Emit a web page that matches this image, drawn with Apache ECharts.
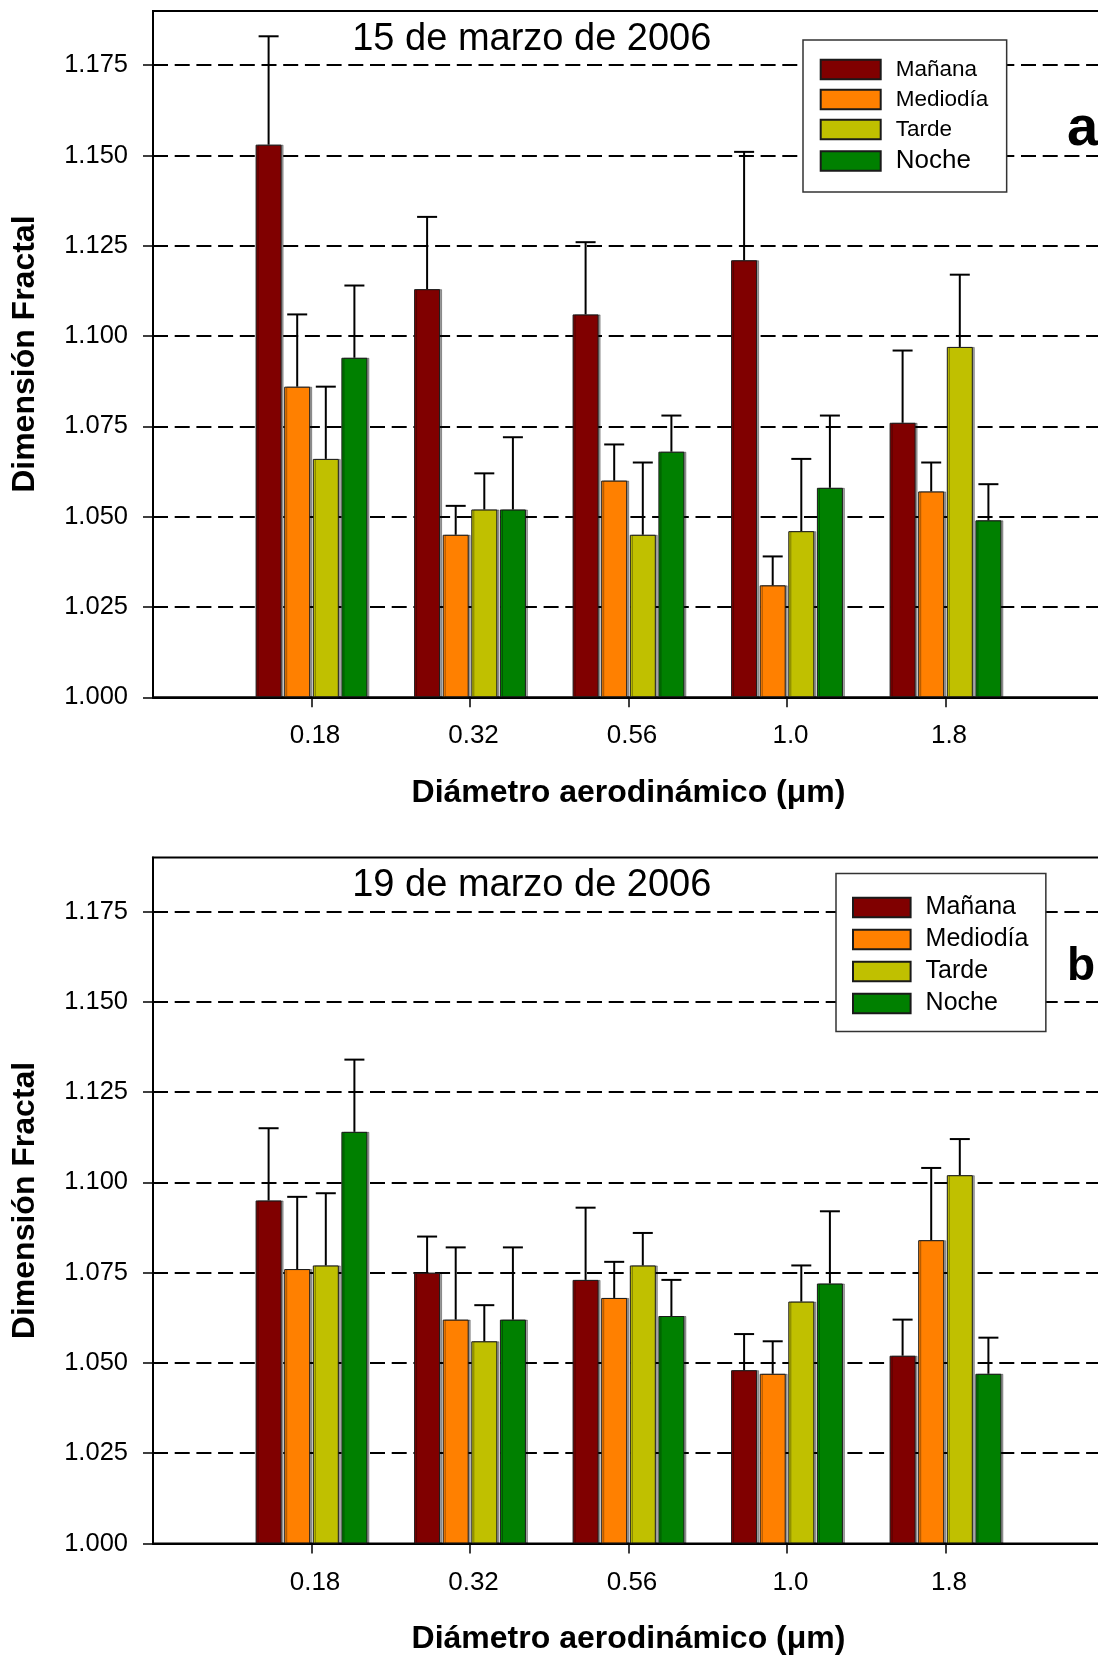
<!DOCTYPE html>
<html>
<head>
<meta charset="utf-8">
<script src="https://cdn.jsdelivr.net/npm/echarts@6/dist/echarts.min.js"></script>
<style>
html,body{margin:0;padding:0;background:#fff;}
#chart{width:1098px;height:1656px;}
</style>
</head>
<body>
<div id="chart"></div>
<script>
// ---------- data ----------
const CATS = ['0.18', '0.32', '0.56', '1.0', '1.8'];
const NAMES = ['Mañana', 'Mediodía', 'Tarde', 'Noche'];
const COLORS = ['#800000', '#FF8000', '#C0C000', '#008000'];
const Y_TICKS = [1.000, 1.025, 1.050, 1.075, 1.100, 1.125, 1.150, 1.175];
const TITLE_A = '15 de marzo de 2006';
const TITLE_B = '19 de marzo de 2006';

// Panel a: 15 de marzo de 2006
const A_MANANA   = [1.153, 1.113, 1.106, 1.121, 1.076];
const A_MEDIODIA = [1.086, 1.045, 1.060, 1.031, 1.057];
const A_TARDE    = [1.066, 1.052, 1.045, 1.046, 1.097];
const A_NOCHE    = [1.094, 1.052, 1.068, 1.058, 1.049];
const A_ERR_MANANA   = [0.030, 0.020, 0.020, 0.030, 0.020];
const A_ERR_MEDIODIA = [0.020, 0.008, 0.010, 0.008, 0.008];
const A_ERR_TARDE    = [0.020, 0.010, 0.020, 0.020, 0.020];
const A_ERR_NOCHE    = [0.020, 0.020, 0.010, 0.020, 0.010];

// Panel b: 19 de marzo de 2006
const B_MANANA   = [1.095, 1.075, 1.073, 1.048, 1.052];
const B_MEDIODIA = [1.076, 1.062, 1.068, 1.047, 1.084];
const B_TARDE    = [1.077, 1.056, 1.077, 1.067, 1.102];
const B_NOCHE    = [1.114, 1.062, 1.063, 1.072, 1.047];
const B_ERR_MANANA   = [0.020, 0.010, 0.020, 0.010, 0.010];
const B_ERR_MEDIODIA = [0.020, 0.020, 0.010, 0.009, 0.020];
const B_ERR_TARDE    = [0.020, 0.010, 0.009, 0.010, 0.010];
const B_ERR_NOCHE    = [0.020, 0.020, 0.010, 0.020, 0.010];

// ---------- styling ----------
const FONT = '"Liberation Sans", Arial, sans-serif';
const BAR_W = 26;
const BAR_GAP = 0.1;
const PITCH = BAR_W * (1 + BAR_GAP);
const CAP = 10;

const chart = echarts.init(document.getElementById('chart'), null, {renderer: 'canvas'});

function makeX(g) {
  const pos = CATS.map((_, i) => i + 1);
  return {
    type: 'value', gridIndex: g, min: 0, max: CATS.length + 1, interval: 1,
    axisLine: {show: true, onZero: false, lineStyle: {color: '#000', width: 2}},
    axisTick: {show: true, customValues: pos, length: 10, inside: false, lineStyle: {color: '#000', width: 1.5}},
    axisLabel: {show: true, customValues: pos, formatter: v => CATS[Math.round(v) - 1] || '',
      fontSize: 26, fontFamily: FONT, color: '#000', margin: 26, padding: [0, 0, 0, 7]},
    splitLine: {show: false},
    name: 'Diámetro aerodinámico (μm)', nameLocation: 'middle', nameGap: 80,
    nameTextStyle: {fontSize: 32, fontWeight: 'bold', fontFamily: FONT, color: '#000'}
  };
}
function makeY(g) {
  return {
    type: 'value', gridIndex: g, min: 1.0, max: 1.19, interval: 0.025, startValue: 1.0,
    axisLine: {show: true, onZero: false, lineStyle: {color: '#000', width: 2}},
    axisTick: {show: true, customValues: Y_TICKS, length: 10, inside: false, lineStyle: {color: '#000', width: 1.5}},
    axisLabel: {show: true, customValues: Y_TICKS, formatter: v => v.toFixed(3),
      fontSize: 25.5, fontFamily: FONT, color: '#000', margin: 25},
    splitLine: {show: true, showMinLine: false, showMaxLine: true,
      lineStyle: {color: '#000', width: 1.8, type: [15, 6.7]}},
    name: 'Dimensión Fractal', nameLocation: 'middle', nameGap: 112,
    nameTextStyle: {fontSize: 32, fontWeight: 'bold', fontFamily: FONT, color: '#000'}
  };
}

function panelSeries(g, vals, errs) {
  const out = [];
  vals.forEach((arr, k) => {
    out.push({
      type: 'bar', name: NAMES[k], xAxisIndex: g, yAxisIndex: g,
      data: arr.map((v, i) => [i + 1, v]),
      barWidth: BAR_W, barGap: (BAR_GAP * 100) + '%',
      clip: true, z: 2, animation: false,
      itemStyle: {color: COLORS[k], borderColor: '#1a1a1a', borderWidth: 1,
        shadowColor: 'rgba(0,0,0,0.35)', shadowOffsetX: 2, shadowOffsetY: 0, shadowBlur: 0}
    });
  });
  vals.forEach((arr, k) => {
    out.push({
      type: 'custom', name: NAMES[k] + ' err', xAxisIndex: g, yAxisIndex: g,
      data: arr.map((v, i) => [i + 1, v, v + errs[k][i]]),
      z: 3, silent: true, animation: false,
      renderItem: (params, api) => {
        const x = api.value(0);
        const p0 = api.coord([x, api.value(1)]);
        const p1 = api.coord([x, api.value(2)]);
        const cx = p0[0] + (k - 1.5) * PITCH;
        const st = {stroke: '#000', lineWidth: 2};
        return {type: 'group', children: [
          {type: 'line', shape: {x1: cx, y1: p0[1], x2: cx, y2: p1[1]}, style: st},
          {type: 'line', shape: {x1: cx - CAP, y1: p1[1], x2: cx + CAP, y2: p1[1]}, style: st}
        ]};
      }
    });
  });
  return out;
}

function legendData(sizes) {
  return NAMES.map((n, k) => ({name: n, textStyle: {fontSize: sizes[k]}}));
}

const option = {
  backgroundColor: '#fff',
  animation: false,
  grid: [
    {left: 153, top: 11, width: 951, height: 686.3, show: true, borderColor: '#000', borderWidth: 2,
     backgroundColor: 'transparent', containLabel: false, outerBoundsMode: 'none'},
    {left: 153, top: 857.4, width: 951, height: 686.1, show: true, borderColor: '#000', borderWidth: 2,
     backgroundColor: 'transparent', containLabel: false, outerBoundsMode: 'none'}
  ],
  xAxis: [makeX(0), makeX(1)],
  yAxis: [makeY(0), makeY(1)],
  legend: [
    {
      orient: 'vertical', left: 803, top: 40, icon: 'rect',
      itemWidth: 60, itemHeight: 19.4, itemGap: 7, selectedMode: false,
      padding: [18, 18.4, 18.1, 16.7],
      backgroundColor: '#fff', borderColor: '#333', borderWidth: 1.5, borderRadius: 0,
      textStyle: {fontFamily: FONT, color: '#000', fontSize: 22.5, padding: [0, 0, 0, 10]},
      data: legendData([22.5, 22.5, 22.5, 26])
    },
    {
      orient: 'vertical', left: 836, top: 873.5, icon: 'rect',
      itemWidth: 57.6, itemHeight: 19.3, itemGap: 7, selectedMode: false,
      padding: [21.5, 17.4, 15.4, 16],
      backgroundColor: '#fff', borderColor: '#333', borderWidth: 1.5, borderRadius: 0,
      textStyle: {fontFamily: FONT, color: '#000', fontSize: 25, padding: [0, 0, 0, 10]},
      data: legendData([25, 25, 25, 25])
    }
  ],
  graphic: [
    {type: 'text', x: 531.8, y: 40, z: 10, style: {text: TITLE_A, fontSize: 38, fontFamily: FONT, fill: '#000', align: 'center', verticalAlign: 'middle'}},
    {type: 'text', x: 531.8, y: 886, z: 10, style: {text: TITLE_B, fontSize: 38, fontFamily: FONT, fill: '#000', align: 'center', verticalAlign: 'middle'}},
    {type: 'text', x: 1067, y: 130, z: 10, style: {text: 'a', fontSize: 56, fontWeight: 'bold', fontFamily: FONT, fill: '#000', align: 'left', verticalAlign: 'middle'}},
    {type: 'text', x: 1067, y: 967, z: 10, style: {text: 'b', fontSize: 46, fontWeight: 'bold', fontFamily: FONT, fill: '#000', align: 'left', verticalAlign: 'middle'}}
  ],
  series: [].concat(
    panelSeries(0, [A_MANANA, A_MEDIODIA, A_TARDE, A_NOCHE], [A_ERR_MANANA, A_ERR_MEDIODIA, A_ERR_TARDE, A_ERR_NOCHE]),
    panelSeries(1, [B_MANANA, B_MEDIODIA, B_TARDE, B_NOCHE], [B_ERR_MANANA, B_ERR_MEDIODIA, B_ERR_TARDE, B_ERR_NOCHE])
  )
};
chart.setOption(option);
</script>
</body>
</html>
